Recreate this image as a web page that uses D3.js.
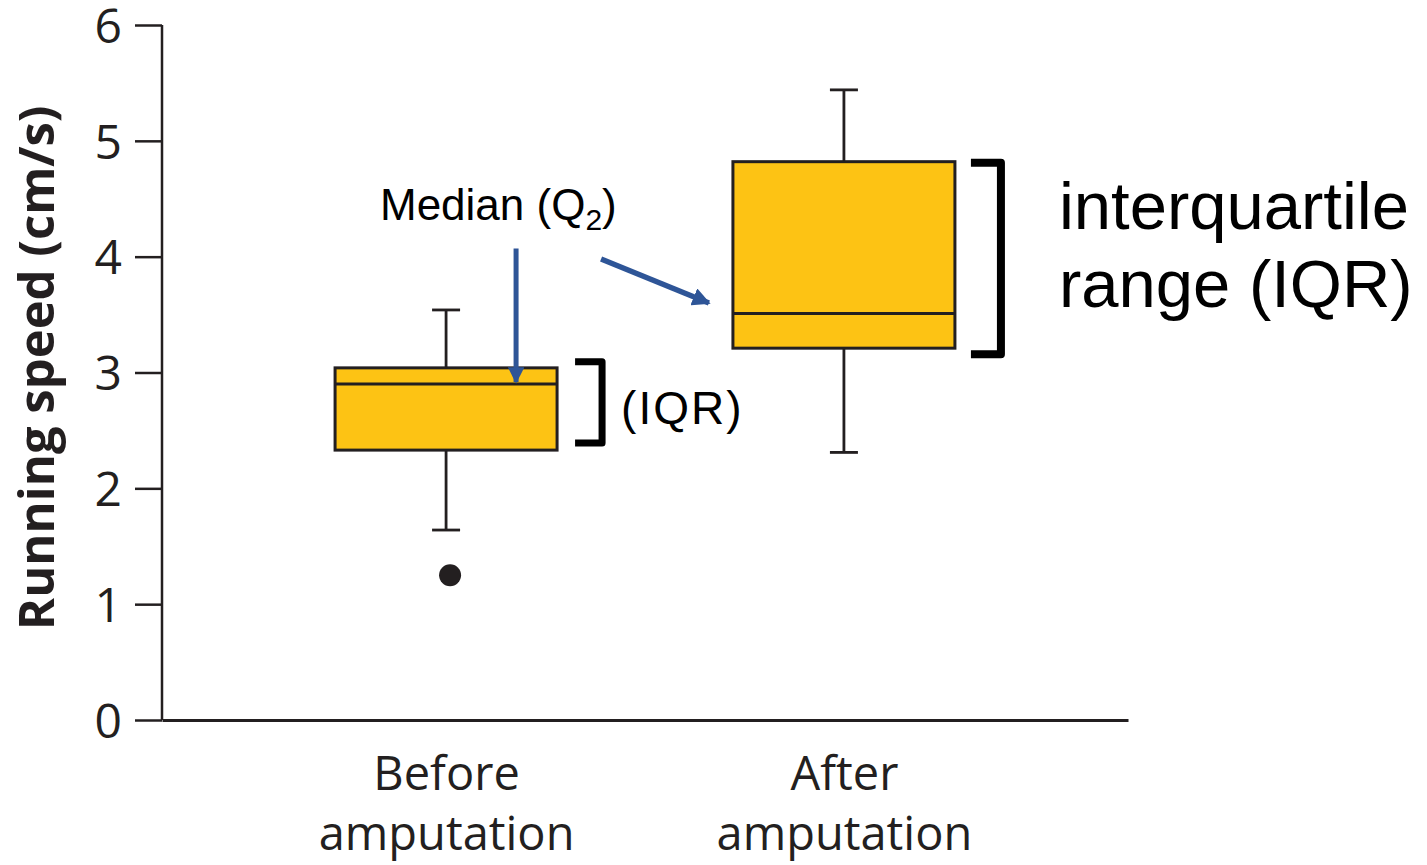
<!DOCTYPE html>
<html lang="en">
<head>
  <meta charset="UTF-8">
  <title>Running speed box plot</title>
  <script src="https://cdnjs.cloudflare.com/ajax/libs/d3/7.8.5/d3.min.js"></script>
  <style>
    body { margin:0; background:#fff; }
    .tick text { font-family:"Open Sans", sans-serif; }
  </style>
</head>
<body>
  <div id="chart"></div>
  <script>
    // box plot values
    var categories = ["Before amputation", "After amputation"];
    var whiskerLow  = [1.64, 2.31];
    var q1          = [2.33, 3.21];
    var median      = [2.90, 3.51];
    var q3          = [3.04, 4.82];
    var whiskerHigh = [3.54, 5.44];
    var outliers    = [{ cat:"Before amputation", v:1.25 }];
    var yTicks = [0, 1, 2, 3, 4, 5, 6];

    var W = 1427, H = 865;
    var margin = { top:25, right:299, bottom:145, left:162 };
    var width = W - margin.left - margin.right;
    var height = H - margin.top - margin.bottom;

    var ink = "#231f20", gold = "#fdc314", blue = "#2e5597";

    var svg = d3.select("#chart").append("svg")
      .attr("width", W).attr("height", H);

    var defs = svg.append("defs");
    defs.append("marker")
      .attr("id", "head")
      .attr("viewBox", "0 0 10 10")
      .attr("refX", 9).attr("refY", 5)
      .attr("markerWidth", 3.3).attr("markerHeight", 3.3)
      .attr("markerUnits", "strokeWidth")
      .attr("orient", "auto")
      .append("path").attr("d", "M0,0L10,5L0,10z").attr("fill", blue);

    var g = svg.append("g")
      .attr("transform", `translate(${margin.left},${margin.top})`);

    var x = d3.scalePoint().domain(categories).range([0, width]).padding(0.714);
    var y = d3.scaleLinear().domain([0, 6]).range([height, 0]);
    var boxW = 222, capW = 28;

    // y axis
    var yAxis = g.append("g")
      .call(d3.axisLeft(y).tickValues(yTicks).tickFormat(d3.format("d")).tickSize(27).tickPadding(13));
    yAxis.select(".domain").attr("stroke", ink).attr("stroke-width", 2.5).attr("d", `M0,${height}V0`);
    yAxis.selectAll(".tick line").attr("stroke", ink).attr("stroke-width", 2.5);
    yAxis.selectAll(".tick text").attr("font-size", 48).attr("fill", ink).attr("dy", "0.36em");

    // x axis (no ticks, two-line labels)
    var xAxis = g.append("g")
      .attr("transform", `translate(0,${height})`)
      .call(d3.axisBottom(x).tickSize(0).tickFormat(""));
    xAxis.select(".domain").attr("stroke", ink).attr("stroke-width", 3);
    xAxis.selectAll(".tick").each(function(d) {
      var words = d.split(" ");
      var t = d3.select(this).append("text")
        .attr("fill", ink).attr("font-size", 47)
        .attr("font-family", "Open Sans, sans-serif")
        .attr("text-anchor", "middle");
      t.append("tspan").attr("x", 0).attr("y", 70).text(words[0]);
      t.append("tspan").attr("x", 0).attr("y", 130).text(words[1]);
    });

    // y title
    svg.append("text")
      .attr("transform", `translate(54,${margin.top + y(3.04)}) rotate(-90)`)
      .attr("text-anchor", "middle")
      .attr("font-family", "Open Sans, sans-serif")
      .attr("font-weight", "bold")
      .attr("font-size", 49)
      .attr("fill", ink)
      .text("Running speed (cm/s)");

    // boxes
    var boxes = g.selectAll(".box").data(categories).join("g").attr("class", "box");
    boxes.append("line")
      .attr("x1", d => x(d)).attr("x2", d => x(d))
      .attr("y1", (d, i) => y(whiskerLow[i])).attr("y2", (d, i) => y(whiskerHigh[i]))
      .attr("stroke", ink).attr("stroke-width", 2.8);
    boxes.append("line")
      .attr("x1", d => x(d) - capW / 2).attr("x2", d => x(d) + capW / 2)
      .attr("y1", (d, i) => y(whiskerHigh[i])).attr("y2", (d, i) => y(whiskerHigh[i]))
      .attr("stroke", ink).attr("stroke-width", 2.8);
    boxes.append("line")
      .attr("x1", d => x(d) - capW / 2).attr("x2", d => x(d) + capW / 2)
      .attr("y1", (d, i) => y(whiskerLow[i])).attr("y2", (d, i) => y(whiskerLow[i]))
      .attr("stroke", ink).attr("stroke-width", 2.8);
    boxes.append("rect")
      .attr("x", d => x(d) - boxW / 2).attr("width", boxW)
      .attr("y", (d, i) => y(q3[i])).attr("height", (d, i) => y(q1[i]) - y(q3[i]))
      .attr("fill", gold).attr("stroke", ink).attr("stroke-width", 3);
    boxes.append("line")
      .attr("x1", d => x(d) - boxW / 2).attr("x2", d => x(d) + boxW / 2)
      .attr("y1", (d, i) => y(median[i])).attr("y2", (d, i) => y(median[i]))
      .attr("stroke", ink).attr("stroke-width", 3);

    g.selectAll(".outlier").data(outliers).join("circle")
      .attr("class", "outlier")
      .attr("cx", d => x(d.cat) + 4).attr("cy", d => y(d.v))
      .attr("r", 11).attr("fill", ink);

    // IQR brackets
    function bracket(cat, i, dx, arm, dTop, dBot, sw) {
      var bx = x(cat) + boxW / 2 + dx;
      var t = y(q3[i]) + dTop, b = y(q1[i]) + dBot;
      g.append("path")
        .attr("d", `M${bx},${t}H${bx + arm}V${b}H${bx}`)
        .attr("fill", "none").attr("stroke", "#000").attr("stroke-width", sw)
        .attr("stroke-linejoin", "round");
      return bx + arm;
    }
    var bEnd0 = bracket(categories[0], 0, 18, 27, -6, -7, 7);
    var bEnd1 = bracket(categories[1], 1, 16, 30, 1, 6, 8);

    g.append("text")
      .attr("x", bEnd0 + 19).attr("y", y((q1[0] + q3[0]) / 2) + 15)
      .attr("font-family", "Liberation Sans, Arial, sans-serif")
      .attr("font-size", 46).attr("letter-spacing", 2).attr("fill", "#000")
      .text("(IQR)");

    var big = g.append("text")
      .attr("font-family", "Liberation Sans, Arial, sans-serif")
      .attr("font-size", 67).attr("fill", "#000");
    big.append("tspan").attr("x", bEnd1 + 58).attr("y", y(4.24)).text("interquartile");
    big.append("tspan").attr("x", bEnd1 + 58).attr("y", y(4.24) + 78).text("range (IQR)");

    // median callout
    var lbl = g.append("text")
      .attr("x", 218).attr("y", y(4.32))
      .attr("font-family", "Liberation Sans, Arial, sans-serif")
      .attr("font-size", 44).attr("fill", "#000");
    lbl.append("tspan").text("Median (Q");
    lbl.append("tspan").attr("font-size", 30).attr("dy", 10).text("2");
    lbl.append("tspan").attr("dy", -10).text(")");

    var ax = x(categories[0]) + 70;
    g.append("line")
      .attr("x1", ax).attr("x2", ax)
      .attr("y1", y(4.07)).attr("y2", y(median[0]) - 2)
      .attr("stroke", blue).attr("stroke-width", 5)
      .attr("marker-end", "url(#head)");
    g.append("line")
      .attr("x1", x(categories[0]) + 155).attr("y1", y(3.98))
      .attr("x2", x(categories[1]) - boxW / 2 - 24).attr("y2", y(3.6))
      .attr("stroke", blue).attr("stroke-width", 5.5)
      .attr("marker-end", "url(#head)");
  </script>
</body>
</html>
